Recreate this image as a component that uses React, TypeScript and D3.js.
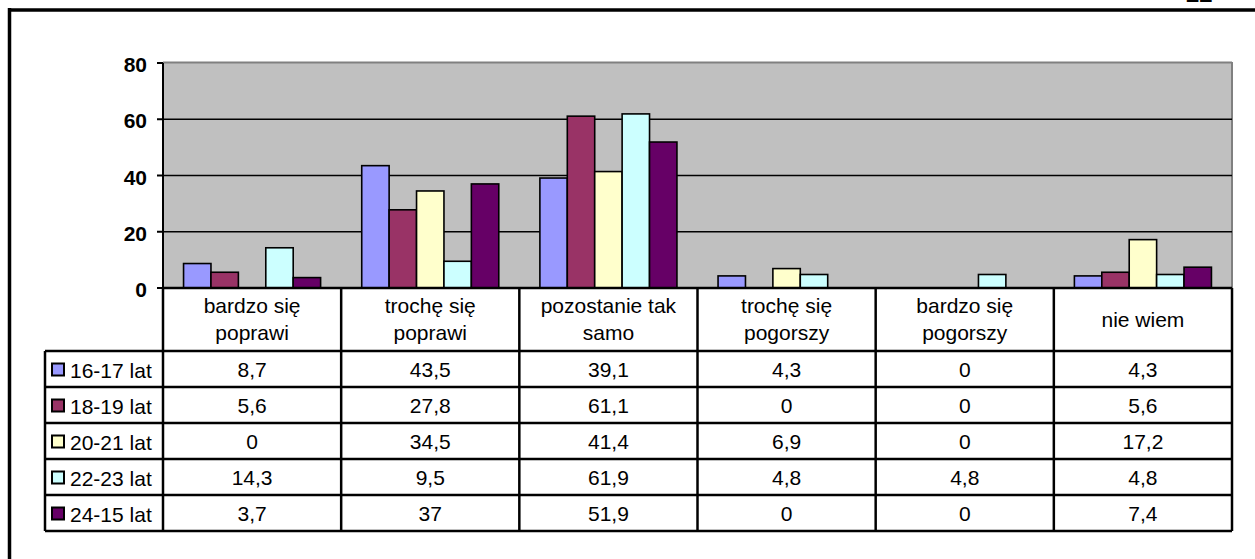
import React from "react";
import * as d3 from "d3";

const categories = [
  ["bardzo się", "poprawi"],
  ["trochę się", "poprawi"],
  ["pozostanie tak", "samo"],
  ["trochę się", "pogorszy"],
  ["bardzo się", "pogorszy"],
  ["nie wiem"],
];
const seriesNames = ["16-17 lat", "18-19 lat", "20-21 lat", "22-23 lat", "24-15 lat"];
const seriesColors = ["#9999FF", "#993366", "#FFFFCC", "#CCFFFF", "#660066"];
const values = [
  [8.7, 43.5, 39.1, 4.3, 0, 4.3],
  [5.6, 27.8, 61.1, 0, 0, 5.6],
  [0, 34.5, 41.4, 6.9, 0, 17.2],
  [14.3, 9.5, 61.9, 4.8, 4.8, 4.8],
  [3.7, 37, 51.9, 0, 0, 7.4],
];
const yTicks = [0, 20, 40, 60, 80];

const W = 1255;
const H = 559;
const FONT = "'Liberation Sans', Arial, Helvetica, sans-serif";

export default function App() {
  const plotL = 163;
  const plotR = 1232;
  const plotT = 63;
  const plotB = 288;
  const tableL = 45;
  const headerB = 351;
  const rowH = 36;

  const catIdx = categories.map((_, i) => String(i));
  const x0 = d3.scaleBand().domain(catIdx).range([plotL, plotR]).paddingInner(0).paddingOuter(0);
  const x1 = d3
    .scaleBand()
    .domain(seriesNames)
    .range([0, x0.bandwidth()])
    .paddingInner(0)
    .paddingOuter(0.75);
  const y = d3.scaleLinear().domain([0, 80]).range([plotB, plotT]);

  const fmt = (v: number) => String(v).replace(".", ",");
  const rowTop = (i: number) => headerB + i * rowH;
  const tableB = rowTop(seriesNames.length);
  const fs = 21;

  return (
    <svg
      width={W}
      height={H}
      style={{ position: "absolute", left: 0, top: 0, background: "#fff" }}
      fontFamily={FONT}
    >
      <rect x={0} y={0} width={W} height={H} fill="#fff" />
      {/* page number fragment */}
      <text x={1186} y={1.5} fontSize={24} fontWeight="bold" fill="#000">
        22
      </text>
      {/* outer frame */}
      <line x1={8} x2={W} y1={10} y2={10} stroke="#000" strokeWidth={3.5} />
      <line x1={9.5} x2={9.5} y1={8} y2={H} stroke="#000" strokeWidth={3.5} />

      {/* plot area */}
      <rect x={plotL} y={plotT} width={plotR - plotL} height={plotB - plotT} fill="#C0C0C0" />
      <line x1={plotL} x2={plotR} y1={plotT - 0.5} y2={plotT - 0.5} stroke="#808080" strokeWidth={2} />
      <line x1={plotR} x2={plotR} y1={plotT - 1} y2={plotB} stroke="#808080" strokeWidth={2} />
      {yTicks
        .filter((t) => t > 0 && t < 80)
        .map((t) => (
          <line key={t} x1={plotL} x2={plotR} y1={y(t)} y2={y(t)} stroke="#000" strokeWidth={1.6} />
        ))}

      {/* bars */}
      {values.map((row, si) =>
        row.map((v, ci) =>
          v > 0 ? (
            <rect
              key={`${si}-${ci}`}
              x={(x0(String(ci)) as number) + (x1(seriesNames[si]) as number)}
              y={y(v)}
              width={x1.bandwidth()}
              height={y(0) - y(v)}
              fill={seriesColors[si]}
              stroke="#000"
              strokeWidth={1.6}
            />
          ) : null
        )
      )}

      {/* y axis */}
      <line x1={plotL} x2={plotL} y1={plotT} y2={plotB} stroke="#000" strokeWidth={2} />
      {yTicks.map((t) => (
        <g key={t}>
          <line x1={plotL - 6} x2={plotL} y1={y(t)} y2={y(t)} stroke="#000" strokeWidth={2} />
          <text
            x={147}
            y={y(t) + 1.5 + fs * 0.36}
            textAnchor="end"
            fontSize={fs}
            fontWeight="bold"
            fill="#000"
          >
            {t}
          </text>
        </g>
      ))}

      {/* table grid */}
      <line x1={plotL} x2={plotR} y1={plotB} y2={plotB} stroke="#000" strokeWidth={2.5} />
      {seriesNames.map((_, i) => (
        <line
          key={`h${i}`}
          x1={tableL}
          x2={plotR}
          y1={rowTop(i)}
          y2={rowTop(i)}
          stroke="#000"
          strokeWidth={2.5}
        />
      ))}
      <line x1={tableL} x2={plotR} y1={tableB} y2={tableB} stroke="#000" strokeWidth={2.5} />
      <line x1={tableL} x2={tableL} y1={headerB} y2={tableB} stroke="#000" strokeWidth={2.5} />
      {catIdx.map((c) => (
        <line
          key={`v${c}`}
          x1={x0(c) as number}
          x2={x0(c) as number}
          y1={plotB}
          y2={tableB}
          stroke="#000"
          strokeWidth={2.5}
        />
      ))}
      <line x1={plotR} x2={plotR} y1={plotB} y2={tableB} stroke="#000" strokeWidth={2.5} />

      {/* header labels */}
      {categories.map((lines, ci) => {
        const cx = (x0(String(ci)) as number) + x0.bandwidth() / 2;
        const mid = (plotB + headerB) / 2;
        return lines.map((ln, li) => {
          const base =
            lines.length === 1 ? mid + fs * 0.36 : mid - 13.5 + fs * 0.36 + li * 27 - 0.5;
          return (
            <text key={`${ci}-${li}`} x={cx} y={base} textAnchor="middle" fontSize={fs} fill="#000">
              {ln}
            </text>
          );
        });
      })}

      {/* rows */}
      {seriesNames.map((name, si) => {
        const cy = rowTop(si) + rowH / 2;
        return (
          <g key={name}>
            <rect
              x={52}
              y={cy - 5.5}
              width={12}
              height={12}
              fill={seriesColors[si]}
              stroke="#000"
              strokeWidth={2}
            />
            <text x={70} y={cy + fs * 0.36 + 1} fontSize={fs} fill="#000">
              {name}
            </text>
            {values[si].map((v, ci) => (
              <text
                key={ci}
                x={(x0(String(ci)) as number) + x0.bandwidth() / 2}
                y={cy + fs * 0.36}
                textAnchor="middle"
                fontSize={fs}
                fill="#000"
              >
                {fmt(v)}
              </text>
            ))}
          </g>
        );
      })}
    </svg>
  );
}
